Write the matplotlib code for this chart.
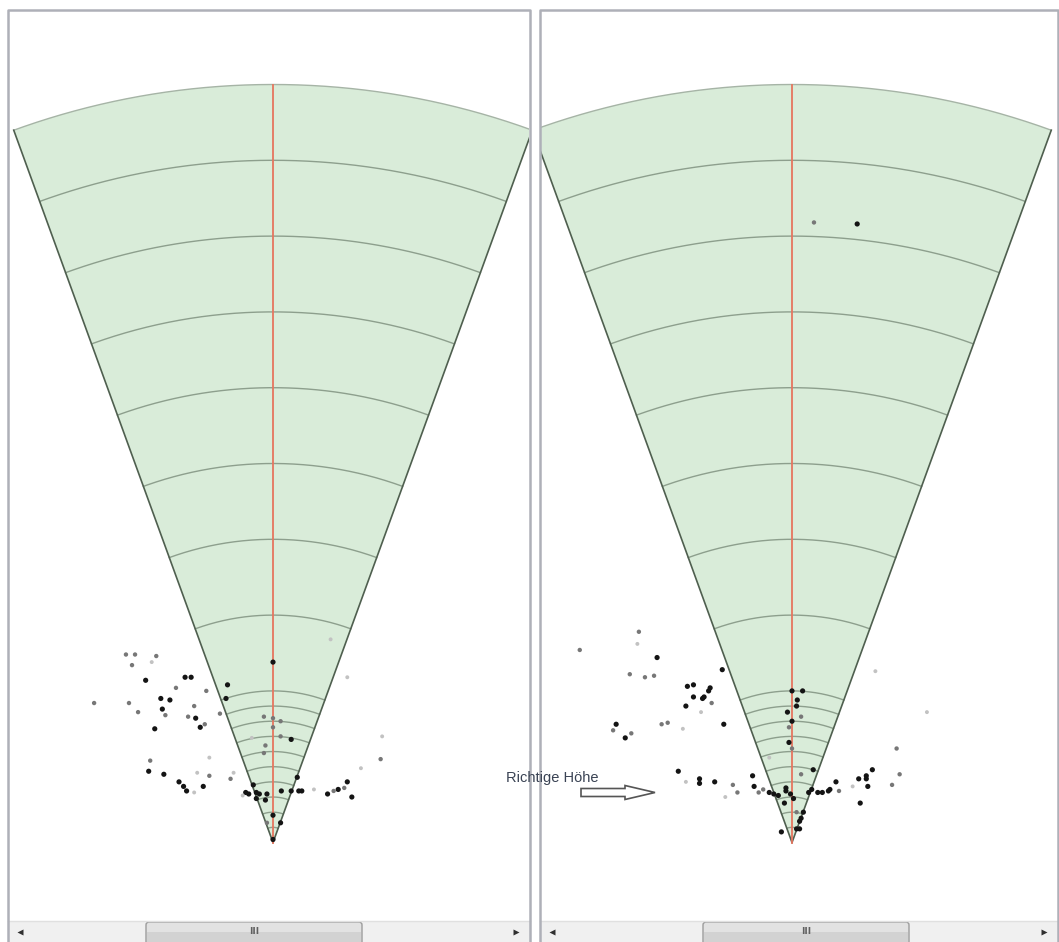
import numpy as np
import matplotlib.pyplot as plt
from matplotlib.patches import Wedge, Rectangle, FancyBboxPatch, FancyArrow

# sonar fan geometry (metres, degrees)
max_range = 50
half_angle = 20
major_rings = [10, 15, 20, 25, 30, 35, 40, 45]
minor_rings = [1, 2, 3, 4, 5, 6, 7, 8, 9]

# echoes, left view: x across (m), y forward (m), shade 0=dark 1=grey 2=faint
left_x = [0.0, -5.8, -5.4, -8.4, -7.7, -9.7, -9.1, -9.3, -8.0, -11.8, -9.5, -7.4, -6.8, -6.4,
          -4.4, -3.0, -3.1, -8.9, -7.3, -7.1, -5.2, -5.6, -5.1, -4.5, -4.8, -7.8, -3.5, -0.6,
          0.0, 0.5, 0.0, -0.5, -0.6, 1.2, 0.5, -1.4, 3.8, 4.9, 7.1, 7.2, 5.8, -8.1, -8.2, -7.2,
          -6.2, -5.9, -5.7, -4.6, -4.2, -2.8, -2.6, -5.0, -4.2, -1.8, -1.6, -1.1, -0.9, -0.4,
          -1.1, -0.5, -1.3, 0.55, 1.2, 1.7, 1.9, 1.6, 0.0, 0.5, 0.0, -0.4, 3.6, 4.3, 4.9, 4.7,
          5.2, 4.0, 2.7, -5.2, -2.0]
left_y = [11.9, 10.9, 10.9, 10.7, 12.3, 12.4, 12.4, 11.7, 11.9, 9.2, 9.2, 9.5, 9.4, 10.2,
          10.0, 10.4, 9.5, 8.6, 8.8, 8.4, 9.0, 8.3, 8.2, 7.8, 7.6, 7.5, 8.5, 8.3,
          8.2, 8.0, 7.6, 6.4, 5.9, 6.8, 7.0, 6.9, 13.4, 10.9, 5.5, 7.0, 4.9, 5.4, 4.7, 4.5,
          4.0, 3.7, 3.4, 3.7, 4.4, 4.2, 4.6, 4.6, 5.6, 3.3, 3.2, 3.3, 3.2, 3.2,
          2.9, 2.8, 3.8, 3.4, 3.4, 3.4, 3.4, 4.3, 1.8, 1.3, 0.2, 1.3, 3.2, 3.5, 4.0, 3.6,
          3.0, 3.4, 3.5, 3.3, 3.1]
left_shade = [0, 0, 0, 0, 1, 1, 1, 1, 2, 1, 1, 0, 0, 1,
              1, 0, 0, 1, 0, 1, 1, 1, 0, 1, 0, 0, 1, 1,
              1, 1, 1, 1, 1, 0, 1, 2, 2, 2, 1, 2, 2, 1, 0, 0,
              0, 0, 0, 0, 1, 1, 2, 2, 2, 0, 0, 0, 0, 0,
              0, 0, 0, 0, 0, 0, 0, 0, 0, 0, 0, 1, 0, 0, 0, 1,
              0, 1, 2, 2, 2]

# echoes, right view
right_x = [-10.1, -10.2, -14.0, -8.9, -4.6, -10.7, -9.7, -9.1, -6.9, -6.5, -5.4, -5.5, -6.5,
           -5.9, -5.8, -7.0, -5.3, -6.0, -11.6, -11.0, -11.8, -10.6, -8.2, -8.6, -4.5, -7.2,
           0.0, 0.7, 0.35, 0.3, -0.3, 0.0, 0.6, -0.2, -0.2, 0.0, -1.5, -7.5, -6.1, -6.1, -5.1,
           -7.0, -3.9, -3.6, -4.4, -2.6, -2.5, -2.2, -1.9, -1.5, -1.2, -0.9, -0.4, -0.4, -0.1,
           0.1, -0.5, 0.6, 0.3, 0.75, 0.6, 0.5, 0.3, 0.5, -0.7, 1.4, 1.1, 1.3, 1.7, 2.0, 2.4,
           2.5, 3.1, 2.9, 4.0, 4.4, 4.9, 4.9, 5.0, 5.3, 4.5, 6.6, 7.1, 6.9, 8.9, 5.5, 1.45, 4.3]
right_y = [13.9, 13.1, 12.7, 12.2, 11.4, 11.1, 10.9, 11.0, 10.3, 10.4, 10.2, 10.0, 9.6,
           9.5, 9.6, 9.0, 9.2, 8.6, 7.8, 6.9, 7.4, 7.2, 7.9, 7.8, 7.8, 7.5,
           10.0, 10.0, 9.4, 9.0, 8.6, 8.0, 8.3, 6.6, 7.6, 6.2, 5.6, 4.7, 4.2, 3.9, 4.0,
           4.0, 3.8, 3.3, 3.0, 4.4, 3.7, 3.3, 3.5, 3.3, 3.2, 3.1, 3.6, 3.4, 3.2,
           2.9, 2.6, 4.5, 2.0, 2.0, 1.6, 1.4, 0.9, 0.9, 0.7, 4.8, 3.3, 3.5, 3.3, 3.3, 3.4,
           3.5, 3.4, 4.0, 3.7, 4.2, 4.4, 4.2, 3.7, 4.8, 2.6, 3.8, 4.5, 6.2, 8.6, 11.3, 40.9, 40.8]
right_shade = [1, 2, 1, 0, 0, 1, 1, 1, 0, 0, 0, 0, 0,
               0, 0, 0, 1, 2, 0, 0, 1, 1, 1, 1, 0, 2,
               0, 0, 0, 0, 0, 0, 1, 0, 1, 1, 2, 0, 0, 0, 0,
               2, 1, 1, 2, 0, 0, 1, 1, 0, 0, 0, 0, 0, 0,
               0, 0, 1, 1, 0, 0, 0, 0, 0, 0, 0, 0, 0, 0, 0, 0,
               0, 1, 0, 2, 0, 0, 0, 0, 0, 0, 1, 1, 1, 2, 2, 1, 0]

label_text = "Richtige Höhe"

# screen layout (pixels)
W, H = 1059, 942
px_per_m = 15.16
scroll_h = 21
panels = [
    dict(left=9, right=529, apex_x=273, xs=left_x, ys=left_y, sh=left_shade, thumb=(146, 362)),
    dict(left=541, right=1057, apex_x=792, xs=right_x, ys=right_y, sh=right_shade, thumb=(703, 909)),
]
top_px, bottom_px, apex_y = 11, H - scroll_h, 842.5

shade_col = ['#141414', '#777777', '#c2c2c2']
shade_size = [14, 10, 8]

fig = plt.figure(figsize=(W / 100, H / 100), dpi=100)


def fx(p):
    return p / W


def fy(p):
    return 1 - p / H


for p in panels:
    ax = fig.add_axes([fx(p['left']), fy(bottom_px), fx(p['right'] - p['left']),
                       (bottom_px - top_px) / H])
    ax.set_xlim((p['left'] - p['apex_x']) / px_per_m, (p['right'] - p['apex_x']) / px_per_m)
    ax.set_ylim((apex_y - bottom_px) / px_per_m, (apex_y - top_px) / px_per_m)
    ax.axis('off')

    t1, t2 = 90 - half_angle, 90 + half_angle
    ax.add_patch(Wedge((0, 0), max_range, t1, t2, facecolor='#d9ecd9', edgecolor='none'))
    th = np.radians(np.linspace(t1, t2, 200))
    for r in major_rings + minor_rings:
        ax.plot(r * np.cos(th), r * np.sin(th), color='#8d9f8d', lw=1.0)
    ax.plot(max_range * np.cos(th), max_range * np.sin(th), color='#a6b4a6', lw=1.0)
    for t in (t1, t2):
        ax.plot([0, max_range * np.cos(np.radians(t))], [0, max_range * np.sin(np.radians(t))],
                color='#4f5f4f', lw=1.2)
    ax.plot([0, 0], [0, max_range], color='#e6755f', lw=1.3)

    cols = [shade_col[s] for s in p['sh']]
    sizes = [shade_size[s] for s in p['sh']]
    ax.scatter(p['xs'], p['ys'], c=cols, s=sizes, linewidths=0, zorder=5)

# window chrome overlay
ov = fig.add_axes([0, 0, 1, 1], facecolor='none')
ov.set_xlim(0, W)
ov.set_ylim(H, 0)
ov.axis('off')

for p in panels:
    l, r = p['left'] - 1, p['right'] + 1
    ov.add_patch(Rectangle((l, bottom_px), r - l, scroll_h, facecolor='#f0f0f0', edgecolor='none'))
    ov.plot([l, r], [bottom_px, bottom_px], color='#e0e0e0', lw=1)
    t0, t1_ = p['thumb']
    ov.add_patch(FancyBboxPatch((t0, bottom_px + 1), t1_ - t0, scroll_h + 2,
                                boxstyle='round,pad=0,rounding_size=3',
                                facecolor='#e2e2e2', edgecolor='#9c9c9c', lw=1))
    ov.add_patch(Rectangle((t0 + 1, bottom_px + 11), t1_ - t0 - 2, 10,
                           facecolor='#d2d2d2', edgecolor='none'))
    ov.text((t0 + t1_) / 2, bottom_px + 11, 'III', ha='center', va='center',
            fontsize=6.5, color='#606060', fontweight='bold')
    ov.plot([l + 12], [bottom_px + 11], marker='<', ms=5, color='#303030', mec='none')
    ov.plot([r - 14], [bottom_px + 11], marker='>', ms=5, color='#303030', mec='none')
    # window frame
    ov.plot([l, l, r, r], [H + 2, top_px - 1, top_px - 1, H + 2], color='#aeb0b8', lw=1.8)

ov.text(506, 778, label_text, ha='left', va='center', fontsize=10.5, color='#3a4354',
        family='Liberation Sans')
ov.add_patch(FancyArrow(581, 792.5, 74, 0, width=8, head_width=14, head_length=30,
                        length_includes_head=True, facecolor='white', edgecolor='#555555',
                        lw=1.2, zorder=6))

fig.savefig('out.png', dpi=100)
